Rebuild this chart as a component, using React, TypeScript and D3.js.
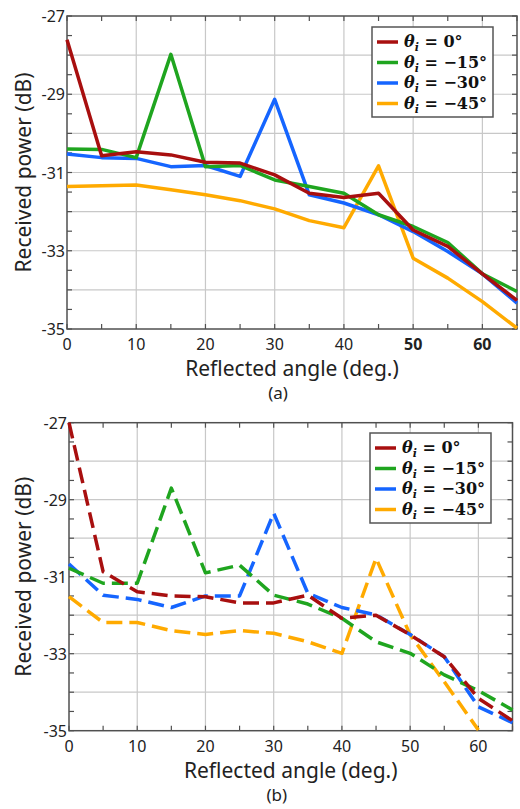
import * as d3 from 'd3';

// reflected angles (deg.)
const angles = [0, 5, 10, 15, 20, 25, 30, 35, 40, 45, 50, 55, 60, 65];
const incidentLabels = ['0°', '−15°', '−30°', '−45°'];
const COLORS = ['#A80F0F', '#1FA51F', '#1565FF', '#FFAA00'];
const xTickLabels = [0, 10, 20, 30, 40, 50, 60];
const yTickLabels = [-27, -29, -31, -33, -35];

// (a) solid lines
const a0 = [-27.61, -30.57, -30.47, -30.55, -30.74, -30.76, -31.06, -31.53, -31.64, -31.53, -32.47, -32.89, -33.59, -34.27];
const a15 = [-30.40, -30.41, -30.62, -27.98, -30.85, -30.82, -31.19, -31.36, -31.53, -32.08, -32.38, -32.79, -33.59, -34.04];
const a30 = [-30.53, -30.62, -30.64, -30.85, -30.82, -31.10, -29.13, -31.57, -31.78, -32.08, -32.51, -33.02, -33.59, -34.34];
const a45 = [-31.36, -31.34, -31.32, -31.44, -31.57, -31.72, -31.93, -32.23, -32.41, -30.83, -33.19, -33.70, -34.30, -34.98];

// (b) dashed lines
const b0 = [-27.0, -30.87, -31.39, -31.50, -31.52, -31.68, -31.68, -31.48, -32.08, -32.0, -32.51, -33.08, -34.16, -34.74];
const b15 = [-30.78, -31.17, -31.17, -28.70, -30.90, -30.70, -31.48, -31.71, -32.08, -32.69, -32.99, -33.55, -33.96, -34.46];
const b30 = [-30.67, -31.48, -31.59, -31.80, -31.50, -31.50, -29.35, -31.43, -31.80, -31.99, -32.50, -33.08, -34.38, -34.79];
const b45 = [-31.52, -32.19, -32.19, -32.40, -32.50, -32.40, -32.47, -32.69, -32.99, -30.52, -32.51, -33.73, -34.98];

const FONT = '"Noto Sans", "Open Sans", sans-serif';

type PanelProps = {
  left: number; right: number; top: number; bottom: number;
  series: number[][];
  dashed: boolean;
  boldX: number[];
  caption: string;
  legendBox: [number, number, number, number];
};

function Panel({ left, right, top, bottom, series, dashed, boldX, caption, legendBox }: PanelProps) {
  const x = d3.scaleLinear().domain([0, 65]).range([left, right]);
  const y = d3.scaleLinear().domain([-35, -27]).range([bottom, top]);
  const line = d3.line<[number, number]>().x(d => x(d[0])).y(d => y(d[1]));

  const minorX = d3.range(0, 66, 5);
  const minorY = d3.range(-35, -26.9, 0.5);
  const gridX = d3.range(10, 61, 10);
  const gridY = d3.range(-34, -27, 1);
  const axis = '#505050';
  const order = [3, 2, 1, 0];
  const [lx, ly, lw, lh] = legendBox;

  return (
    <g>
      {gridX.map(v => <line key={'gx' + v} x1={x(v)} x2={x(v)} y1={top} y2={bottom} stroke="#c8c8c8" strokeWidth={1.2} />)}
      {gridY.map(v => <line key={'gy' + v} x1={left} x2={right} y1={y(v)} y2={y(v)} stroke="#c8c8c8" strokeWidth={1.2} />)}
      {minorX.map(v => (
        <g key={'tx' + v}>
          <line x1={x(v)} x2={x(v)} y1={bottom} y2={bottom - 5} stroke={axis} strokeWidth={1.2} />
          <line x1={x(v)} x2={x(v)} y1={top} y2={top + 5} stroke={axis} strokeWidth={1.2} />
        </g>
      ))}
      {minorY.map(v => (
        <g key={'ty' + v}>
          <line x1={left} x2={left + 5} y1={y(v)} y2={y(v)} stroke={axis} strokeWidth={1.2} />
          <line x1={right} x2={right - 5} y1={y(v)} y2={y(v)} stroke={axis} strokeWidth={1.2} />
        </g>
      ))}
      <rect x={left} y={top} width={right - left} height={bottom - top} fill="none" stroke={axis} strokeWidth={1.5} />

      <defs>
        <clipPath id={'clip' + caption}>
          <rect x={left} y={top - 2} width={right - left} height={bottom - top + 4} />
        </clipPath>
      </defs>
      <g clipPath={`url(#clip${caption})`}>
        {order.map(i => (
          <path
            key={'s' + i}
            d={line(series[i].map((v, k) => [angles[k], v] as [number, number])) || ''}
            fill="none"
            stroke={COLORS[i]}
            strokeWidth={3.5}
            strokeLinejoin="round"
            strokeDasharray={dashed ? '16,7' : undefined}
          />
        ))}
      </g>

      {xTickLabels.map(v => (
        <text key={'xl' + v} x={x(v)} y={bottom + 21} textAnchor="middle" fontFamily={FONT} fontSize={16}
          fontWeight={boldX.includes(v) ? 'bold' : 'normal'} fill="#222">{v}</text>
      ))}
      {yTickLabels.map(v => (
        <text key={'yl' + v} x={left - 2} y={y(v) + 6} textAnchor="end" fontFamily={FONT} fontSize={16} fill="#222">{v}</text>
      ))}

      <text x={(left + right) / 2} y={bottom + 47} textAnchor="middle" fontFamily={FONT} fontSize={21} fill="#222">Reflected angle (deg.)</text>
      <text transform={`translate(31,${(top + bottom) / 2}) rotate(-90)`} textAnchor="middle" fontFamily={FONT} fontSize={21} fill="#222">Received power (dB)</text>
      <text x={(left + right) / 2 - 14} y={bottom + 70} textAnchor="middle" fontFamily={FONT} fontSize={17} fill="#222">{caption}</text>

      <rect x={lx} y={ly} width={lw} height={lh} fill="#fff" stroke="#555" strokeWidth={1.5} />
      {incidentLabels.map((lab, i) => {
        const cy = ly + 15 + i * 20.5;
        return (
          <g key={'lg' + i}>
            <line x1={lx + 5} x2={lx + 26} y1={cy} y2={cy} stroke={COLORS[i]} strokeWidth={3.5} />
            <text x={lx + 32} y={cy + 5} fontFamily='"DejaVu Serif", serif' fontWeight="bold" fontSize={16} fill="#111">
              <tspan fontStyle="italic">θ</tspan>
              <tspan fontStyle="italic" fontSize={11} dy={4}>i</tspan>
              <tspan dy={-4}>{' = ' + lab}</tspan>
            </text>
          </g>
        );
      })}
    </g>
  );
}

export default function App() {
  return (
    <svg width={520} height={809} style={{ position: 'absolute', left: 0, top: 0, background: '#fff' }}>
      <Panel left={67} right={517} top={16} bottom={329}
        series={[a0, a15, a30, a45]} dashed={false} boldX={[50, 60]} caption="(a)"
        legendBox={[372, 27, 121, 90]} />
      <Panel left={69} right={512.5} top={422.7} bottom={730.7}
        series={[b0, b15, b30, b45]} dashed={true} boldX={[]} caption="(b)"
        legendBox={[370, 433, 121, 90]} />
    </svg>
  );
}
